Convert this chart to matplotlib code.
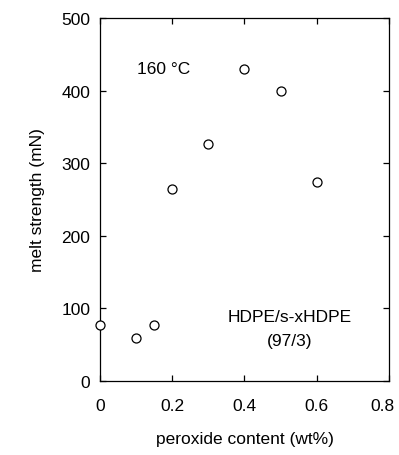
import matplotlib
matplotlib.use('Agg')
import matplotlib.pyplot as plt
import matplotlib.transforms as mtransforms

# peroxide content (wt%) vs melt strength (mN)
peroxide = [0.0, 0.1, 0.15, 0.2, 0.3, 0.4, 0.5, 0.6]
melt_strength = [77, 59, 77, 264, 327, 430, 399, 274]

plt.rcParams['font.family'] = ['Liberation Sans', 'DejaVu Sans']
fs = 12.5

fig = plt.figure(figsize=(3.99, 4.56), dpi=100)
ax = fig.add_axes([0.2506, 0.1623, 0.7243, 0.796])

ax.plot(peroxide, melt_strength, linestyle='none', marker='o', ms=6.5,
        mfc='white', mec='black', mew=0.9, clip_on=False, zorder=3)

ax.set_xlim(0, 0.8)
ax.set_ylim(0, 500)
ax.set_xticks([0, 0.2, 0.4, 0.6, 0.8])
ax.set_xticklabels(['0', '0.2', '0.4', '0.6', '0.8'])
ax.set_yticks([0, 100, 200, 300, 400, 500])

ax.tick_params(direction='in', top=True, right=True, length=4, width=0.9,
               labelsize=fs, pad=7)
ax.tick_params(axis='x', pad=12)
for s in ax.spines.values():
    s.set_linewidth(0.9)

# last x label sits a little left so it stays inside the picture
last = ax.get_xticklabels()[-1]
last.set_transform(last.get_transform() +
                   mtransforms.ScaledTranslation(-5 / 72, 0, fig.dpi_scale_trans))

ax.set_xlabel('peroxide content (wt%)', fontsize=fs, labelpad=13)
ax.set_ylabel('melt strength (mN)', fontsize=fs, labelpad=12)

ax.text(0.175, 430, '160 °C', fontsize=fs, ha='center', va='center')
ax.text(0.526, 89, 'HDPE/s-xHDPE', fontsize=fs, ha='center', va='center')
ax.text(0.526, 56, '(97/3)', fontsize=fs, ha='center', va='center')

fig.savefig('out.png', dpi=100)
